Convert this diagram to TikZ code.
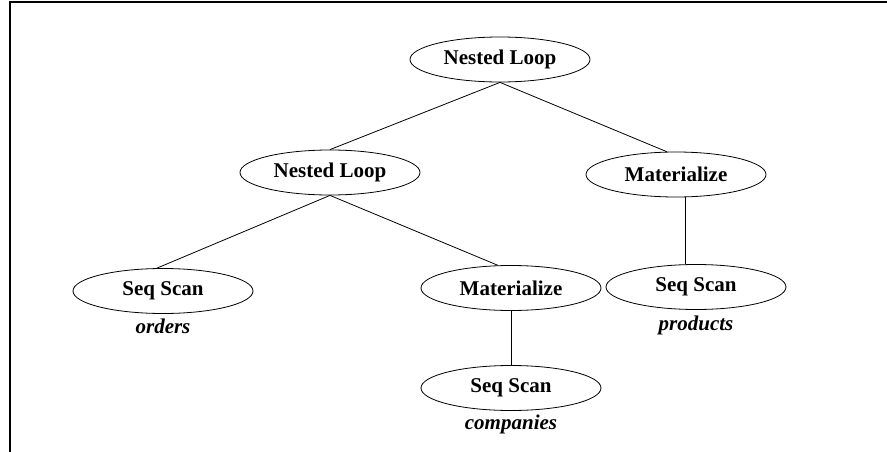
\documentclass[tikz,border=0pt]{standalone}
\usepackage{fontspec}
\setmainfont{Liberation Serif}
\usetikzlibrary{shapes.geometric}

\begin{document}
\begin{tikzpicture}[op/.style={ellipse,draw,line width=0.8pt,minimum width=180pt,minimum height=45pt,inner sep=0pt,font=\fontsize{21}{25}\selectfont\bfseries},
  rel/.style={font=\fontsize{21}{25}\selectfont\bfseries\itshape},
  every edge/.style={draw,line width=0.8pt}]
  \useasboundingbox (0pt, 0pt) rectangle (887pt, -452pt);
  \draw[line width=1.2pt] (10pt, -452pt) -- (10pt, -2pt) -- (887pt, -2pt);
  \draw (500.0pt, -59.5pt)node[op](0){Nested Loop};
  \draw (330.0pt, -172.5pt)node[op](1){Nested Loop};
  \draw (676.0pt, -174.5pt)node[op](2){Materialize};
  \draw (163.0pt, -291.0pt)node[op](3){Seq Scan};
  \draw (511.0pt, -288.0pt)node[op](4){Materialize};
  \draw (696.0pt, -287.0pt)node[op](5){Seq Scan};
  \draw (511.0pt, -388.0pt)node[op](6){Seq Scan};
  \draw (163.0pt, -326.0pt)node[rel](3t){orders};
  \draw (696.0pt, -325.0pt)node[rel](5t){products};
  \draw (511.0pt, -424.0pt)node[rel](6t){companies};
  \path (0.south) edge (1.north);
  \path (0.south) edge (2.112);
  \path (1.south) edge (3.105);
  \path (1.south) edge (4.120);
  \path (2.-68) edge (2.-68 |- 5.north);
  \path (4.south) edge (6.north);
\end{tikzpicture}
\end{document}
